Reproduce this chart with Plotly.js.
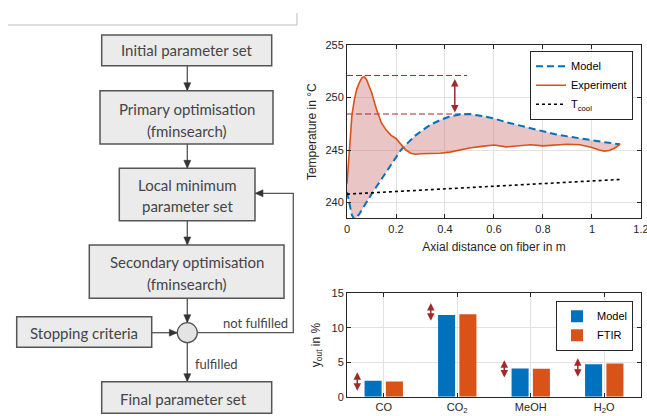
<!DOCTYPE html>
<html>
<head>
<meta charset="utf-8">
<script src="https://cdn.plot.ly/plotly-3.0.1.min.js"></script>
<style>html,body{margin:0;padding:0;background:#fff;}#chart{width:647px;height:416px;}</style>
</head>
<body>
<div id="chart"></div>
<script>
// ---------- DATA ----------
const axialX = [0,0.01,0.02,0.03,0.04,0.05,0.06,0.07,0.08,0.09,0.10,0.12,0.14,0.16,0.18,0.20,0.22,0.24,0.26,0.28,0.30,0.34,0.38,0.42,0.46,0.50,0.55,0.60,0.65,0.70,0.75,0.80,0.85,0.90,0.95,1.00,1.03,1.05,1.07,1.09,1.115];
const modelT = [241.0,239.8,238.8,238.4,238.6,238.9,239.3,239.7,240.1,240.5,240.8,241.5,242.2,243.0,243.7,244.4,245.0,245.5,246.0,246.4,246.75,247.4,247.85,248.2,248.38,248.43,248.25,248.0,247.65,247.35,247.05,246.75,246.5,246.3,246.1,245.95,245.85,245.75,245.7,245.6,245.55];
const expT   = [241.8,245.5,248.3,249.8,250.8,251.4,251.85,252.0,251.7,251.1,250.5,248.9,247.6,246.9,246.4,246.1,245.5,245.0,244.7,244.6,244.65,244.65,244.7,244.8,245.0,245.2,245.35,245.48,245.3,245.4,245.5,245.4,245.5,245.55,245.5,245.25,245.0,244.9,244.95,245.15,245.55];
const coolX = [0,0.2,0.4,0.6,0.8,1.0,1.115];
const coolT = [240.8,241.05,241.3,241.6,241.85,242.05,242.2];
const refX = [0,0.49];
const peakExp = 252.1;
const peakModel = 248.43;
const deltaArrowX = 0.44;
const xTicks = [0,0.2,0.4,0.6,0.8,1,1.2];

const species = ["CO","CO<sub>2</sub>","MeOH","H<sub>2</sub>O"];
const yModel = [2.3,11.85,4.1,4.7];
const yFTIR  = [2.2,11.95,4.05,4.8];
const arrowLow  = [0.85,11.0,2.8,2.9];
const arrowHigh = [3.75,13.8,5.5,5.8];

// ---------- HELPERS ----------
const W = 647, H = 416;
const px = v => v / W;
const py = v => 1 - v / H;
const C_BLUE = '#0072BD', C_ORANGE = '#D95319', C_RED = '#A3282C';
const AX = '#262626', GRID = '#E2E2E2';
const FC_LINE = '#555555', FC_FILL = '#EBEBEB', FC_TEXT = '#454545';
const FONT = 'Liberation Sans, Arial, sans-serif';
const FCFONT = 'Lato, Open Sans, sans-serif';

const shapes = [];
const annotations = [];

function box(x0,y0,x1,y1){
  shapes.push({type:'rect',xref:'paper',yref:'paper',x0:px(x0),x1:px(x1),y0:py(y1),y1:py(y0),
    line:{color:FC_LINE,width:1.5},fillcolor:FC_FILL,layer:'above'});
}
function label(txt,x,y,size,anchor){
  annotations.push({xref:'paper',yref:'paper',x:px(x),y:py(y),text:txt,showarrow:false,
    xanchor:anchor||'center',yanchor:'middle',font:{family:FCFONT,size:size||15,color:FC_TEXT}});
}
function line(pts){
  let d = 'M ' + pts.map(p=>px(p[0])+' '+py(p[1])).join(' L ');
  shapes.push({type:'path',xref:'paper',yref:'paper',path:d,line:{color:FC_LINE,width:1.3},layer:'above'});
}
function head(x,y,dir){
  const L=8,Wd=3.5; let pts;
  if(dir==='down') pts=[[x,y],[x-Wd,y-L],[x+Wd,y-L]];
  if(dir==='right') pts=[[x,y],[x-L,y-Wd],[x-L,y+Wd]];
  if(dir==='left') pts=[[x,y],[x+L,y-Wd],[x+L,y+Wd]];
  let d='M '+pts.map(p=>px(p[0])+' '+py(p[1])).join(' L ')+' Z';
  shapes.push({type:'path',xref:'paper',yref:'paper',path:d,fillcolor:'#333',line:{color:'#333',width:0.5},layer:'above'});
}
function arrow(x0,y0,x1,y1,dir){ line([[x0,y0],[x1,y1]]); head(x1,y1,dir); }

// ---------- FLOWCHART ----------
shapes.push({type:'path',xref:'paper',yref:'paper',path:'M '+px(8)+' '+py(25)+' L '+px(297)+' '+py(25)+' L '+px(297)+' '+py(13),line:{color:'#BDBDBD',width:1}});
const cx = 187.3;
box(101.7,35,271.7,65.7);   label('Initial parameter set',cx,50.5);
arrow(cx,65.7,cx,90.7,'down');
box(100,90.7,273,144);      label('Primary optimisation',cx,108.5); label('(fminsearch)',cx,131);
arrow(cx,144,cx,168.3,'down');
box(119.3,168.3,255,220.7); label('Local minimum',cx,185); label('parameter set',cx,206);
arrow(cx,220.7,cx,245,'down');
box(89.3,245,284,298.3);    label('Secondary optimisation',cx,262); label('(fminsearch)',cx,283.5);
arrow(cx,298.3,cx,322.7,'down');
shapes.push({type:'circle',xref:'paper',yref:'paper',x0:px(cx-10),x1:px(cx+10),y0:py(342.7),y1:py(322.7),
  line:{color:FC_LINE,width:1.3},fillcolor:'#E4E4E4',layer:'above'});
box(16.7,316.7,151.7,347.3); label('Stopping criteria',84,332.5);
arrow(151.7,332.7,177.3,332.7,'right');
line([[197.3,332.7],[293.3,332.7],[293.3,193.3],[263,193.3]]); head(255,193.3,'left');
label('not fulfilled',255.5,322.5,13);
arrow(cx,342.7,cx,381.7,'down');
label('fulfilled',193,364,13,'left');
box(101.7,381.7,271.7,413.3); label('Final parameter set',183,398.5);

// ---------- TRACES ----------
const traces = [
  {x:axialX,y:modelT,mode:'lines',line:{width:0,color:'rgba(0,0,0,0)'},showlegend:false,hoverinfo:'skip',xaxis:'x',yaxis:'y'},
  {x:axialX,y:expT,mode:'lines',fill:'tonexty',fillcolor:'rgba(196,102,102,0.38)',line:{width:0,color:'rgba(0,0,0,0)'},showlegend:false,hoverinfo:'skip',xaxis:'x',yaxis:'y'},
  {x:refX,y:[peakExp,peakExp],mode:'lines',line:{color:C_RED,width:1,dash:'6px,3px'},showlegend:false,xaxis:'x',yaxis:'y'},
  {x:refX,y:[peakModel,peakModel],mode:'lines',line:{color:C_RED,width:1,dash:'6px,3px'},showlegend:false,xaxis:'x',yaxis:'y'},
  {x:axialX,y:modelT,mode:'lines',name:'Model',line:{color:C_BLUE,width:2,dash:'7px,4px'},xaxis:'x',yaxis:'y',legend:'legend'},
  {x:axialX,y:expT,mode:'lines',name:'Experiment',line:{color:C_ORANGE,width:1.6},xaxis:'x',yaxis:'y',legend:'legend'},
  {x:coolX,y:coolT,mode:'lines',name:'T<sub>cool</sub>',line:{color:'#000',width:1.6,dash:'dot'},xaxis:'x',yaxis:'y',legend:'legend'},
  {type:'bar',x:[1,2,3,4],y:yModel,name:'Model',marker:{color:C_BLUE},xaxis:'x2',yaxis:'y2',legend:'legend2'},
  {type:'bar',x:[1,2,3,4],y:yFTIR,name:'FTIR',marker:{color:C_ORANGE},xaxis:'x2',yaxis:'y2',legend:'legend2'}
];

// arrows in charts
annotations.push({xref:'x',yref:'y',axref:'x',ayref:'y',x:deltaArrowX,y:peakModel+0.15,ax:deltaArrowX,ay:peakExp-0.2,
  text:'',showarrow:true,arrowhead:2,startarrowhead:2,arrowside:'end+start',arrowcolor:C_RED,arrowwidth:1.5,arrowsize:1,startarrowsize:1});
arrowLow.forEach((lo,i)=>{
  const xx = (i+1) - 0.36;
  annotations.push({xref:'x2',yref:'y2',axref:'x2',ayref:'y2',x:xx,y:lo,ax:xx,ay:arrowHigh[i],
    text:'',showarrow:true,arrowhead:2,startarrowhead:2,arrowside:'end+start',arrowcolor:C_RED,arrowwidth:1.5,arrowsize:1,startarrowsize:1});
});

const axCommon = {showline:true,mirror:'ticks',linecolor:AX,linewidth:1,ticks:'inside',ticklen:4,tickcolor:AX,
  showgrid:true,gridcolor:GRID,zeroline:false,tickfont:{family:FONT,size:11,color:AX},ticklabeloverflow:'allow'};
const dom = [px(347),px(641)];

const layout = {
  width:W,height:H,margin:{l:0,r:0,t:0,b:0},paper_bgcolor:'#fff',plot_bgcolor:'#fff',
  showlegend:true,barmode:'group',bargap:0.42,bargroupgap:0.2,
  xaxis:Object.assign({},axCommon,{domain:dom,anchor:'y',range:[0,1.2001],tickmode:'array',tickvals:xTicks,
    title:{text:'Axial distance on fiber in m',font:{family:FONT,size:12,color:AX},standoff:9}}),
  yaxis:Object.assign({},axCommon,{domain:[py(218.3),py(45)],anchor:'x',range:[238.5,255],tick0:240,dtick:5,
    title:{text:'Temperature in °C',font:{family:FONT,size:12,color:AX},standoff:6}}),
  xaxis2:Object.assign({},axCommon,{domain:dom,anchor:'y2',range:[0.5,4.5],tickvals:[1,2,3,4],ticktext:species}),
  yaxis2:Object.assign({},axCommon,{domain:[py(396.7),py(293.3)],anchor:'x2',range:[0,15],tick0:0,dtick:5,
    title:{text:'y<sub>out</sub> in %',font:{family:FONT,size:12,color:AX},standoff:8}}),
  legend:{x:px(633),y:py(50.7),xanchor:'right',yanchor:'top',bgcolor:'#fff',bordercolor:AX,borderwidth:1,
    font:{family:FONT,size:11,color:'#000'},itemwidth:30,tracegroupgap:0,traceorder:'normal'},
  legend2:{x:px(633),y:py(300.7),xanchor:'right',yanchor:'top',bgcolor:'#fff',bordercolor:AX,borderwidth:1,
    font:{family:FONT,size:11,color:'#000'},itemwidth:30,traceorder:'normal'},
  shapes:shapes,annotations:annotations
};

Plotly.newPlot('chart',traces,layout,{staticPlot:true,displayModeBar:false});
</script>
</body>
</html>
